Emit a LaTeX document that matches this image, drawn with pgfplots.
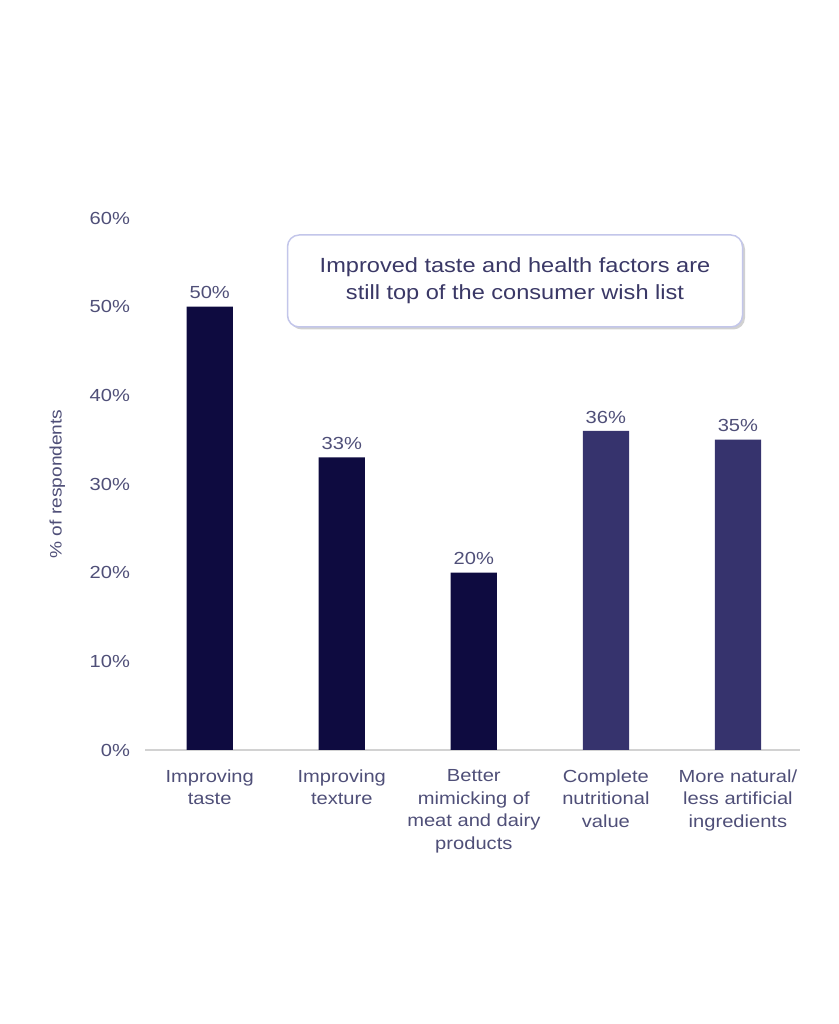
\documentclass[border=0pt]{standalone}
\usepackage{pgfplots}
\pgfplotsset{compat=1.18}
\usepackage{fontspec}
\setmainfont{Liberation Sans}[FakeStretch=1.15]
\usetikzlibrary{shadows}
\definecolor{barA}{HTML}{0E0B40}
\definecolor{barB}{HTML}{36336D}
\definecolor{txt}{HTML}{4F4F78}
\definecolor{ttl}{HTML}{3A3866}
\definecolor{boxline}{HTML}{C3C6EA}
\begin{document}
\begin{tikzpicture}
\path[use as bounding box] (0,0) rectangle (502.8pt,614.4pt);
\begin{axis}[
  scale only axis,
  at={(87pt,164.4pt)}, anchor=south west,
  width=393pt, height=319.2pt,
  xmin=-0.49, xmax=4.47,
  ymin=0, ymax=60,
  ytick={0,10,...,60},
  yticklabel={\pgfmathprintnumber{\tick}\%},
  /pgf/number format/assume math mode=true,
  yticklabel style={font=\fontsize{10.5}{12}\selectfont, text=txt, xshift=-5.5pt},
  xtick={0,1,2,3,4},
  xticklabels={{Improving\\taste},{Improving\\texture},{Better\\mimicking of\\meat and dairy\\products},{Complete\\nutritional\\value},{More natural/\\less artificial\\ingredients}},
  xticklabel style={font=\fontsize{10.5}{13.5}\selectfont, text=txt, align=center, yshift=-4pt},
  major tick style={draw=none},
  axis line style={draw=none},
  axis x line*=bottom,
  axis y line*=left,
  ylabel={\% of respondents},
  ylabel style={font=\fontsize{10}{12}\selectfont, text=txt, at={(axis description cs:-0.134,0.5)}, anchor=center},
  ybar, bar width=0.35, bar shift=0pt,
  nodes near coords={\pgfmathprintnumber{\pgfplotspointmeta}\%},
  nodes near coords style={font=\fontsize{10.5}{12}\selectfont, text=txt, yshift=1pt},
  clip=false,
]
\draw[gray!35, line width=0.8pt] (axis cs:-0.49,0) -- (axis cs:4.47,0);
\addplot[fill=barA, draw=none] coordinates {(0,50) (1,33) (2,20)};
\addplot[fill=barB, draw=none] coordinates {(3,36) (4,35)};
\end{axis}
\node[draw=boxline, line width=0.9pt, rounded corners=7pt, fill=white,
      minimum width=273pt, minimum height=55.2pt, align=center,
      text=ttl, font=\fontsize{12.3}{16}\selectfont,
      drop shadow={shadow xshift=1.5pt, shadow yshift=-1.5pt, fill=gray!60, opacity=0.6}]
  at (309pt,445.8pt) {Improved taste and health factors are\\still top of the consumer wish list};
\end{tikzpicture}
\end{document}
